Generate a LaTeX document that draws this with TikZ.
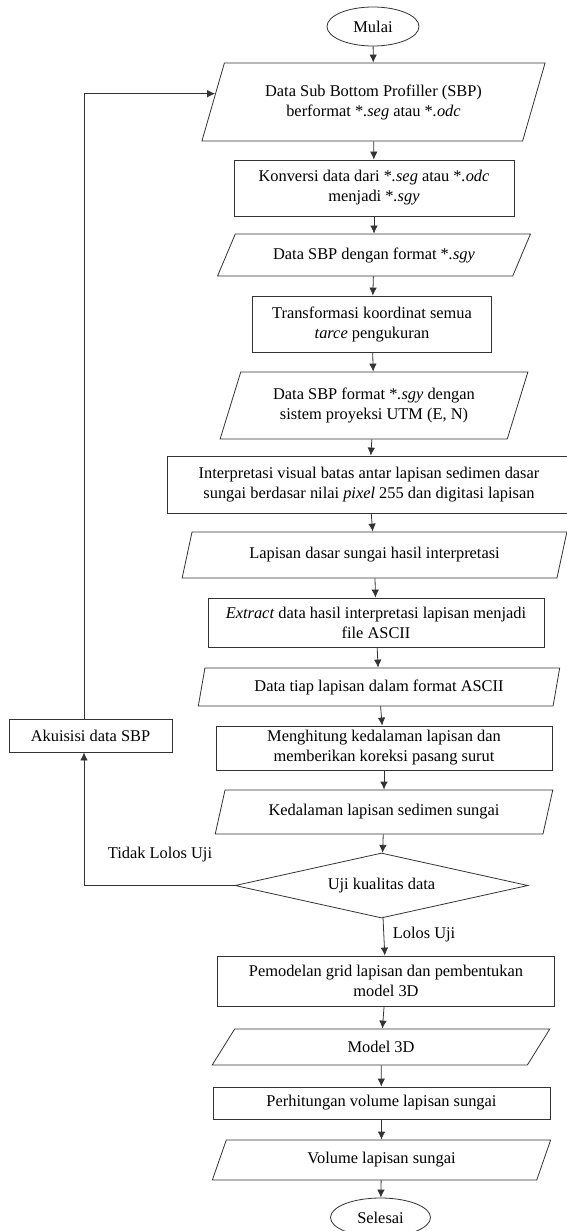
\documentclass[tikz,border=0pt]{standalone}
\usepackage{fontspec}
\setmainfont{Liberation Serif}
\usetikzlibrary{shapes,arrows,arrows.meta,positioning,calc}
\newcommand{\flowfont}{\fontsize{16.4pt}{20pt}\selectfont}
\tikzset{
    block/.style={rectangle, draw=black!80, line width=0.8pt, align=center,
                  inner sep=0pt, font=\flowfont},
    io/.style={trapezium, trapezium left angle=#1, trapezium right angle=180-#1,
               trapezium stretches=true, draw=black!80, line width=0.8pt,
               align=center, inner sep=0pt, font=\flowfont},
    io/.default=65,
    terminal/.style={ellipse, draw=black!80, line width=0.8pt, inner sep=0pt,
                     font=\flowfont},
    decision/.style={diamond, draw=black!80, line width=0.8pt, inner sep=0pt,
                     aspect=4.5, font=\flowfont},
    label/.style={inner sep=0pt, font=\flowfont},
    line/.style={draw=black!80, line width=0.8pt, -{Latex[length=8pt,width=7.5pt]}},
}
\begin{document}
\begin{tikzpicture}[x=1pt, y=-1pt]
    \useasboundingbox (0,0) rectangle (566,1231);
    % main column
    \node [terminal, minimum width=92pt, minimum height=39pt] (mulai) at (373,26.5) {Mulai};
    \node [io=65, minimum width=344pt, minimum height=78pt] (data1) at (373.5,102)
        {Data Sub Bottom Profiller (SBP)\\ berformat *\textit{.seg} atau *\textit{.odc}};
    \node [block, minimum width=280pt, minimum height=56pt] (konversi) at (374,188)
        {Konversi data dari *\textit{.seg} atau *\textit{.odc}\\ menjadi *\textit{.sgy}};
    \node [io=49.5, minimum width=314pt, minimum height=42pt] (data2) at (374,255)
        {Data SBP dengan format *\textit{.sgy}};
    \node [block, minimum width=239pt, minimum height=56pt] (transform) at (372,324)
        {Transformasi koordinat semua\\ \textit{tarce} pengukuran};
    \node [io=66, minimum width=308pt, minimum height=67pt] (data3) at (374,405.5)
        {Data SBP format *\textit{.sgy} dengan\\ sistem proyeksi UTM (E, N)};
    \node [block, minimum width=404pt, minimum height=57pt] (interp) at (369,484.5)
        {Interpretasi visual batas antar lapisan sedimen dasar\\ sungai berdasar nilai \textit{pixel} 255 dan digitasi lapisan};
    \node [io=65.5, minimum width=385pt, minimum height=46pt] (lapisan) at (374.5,555)
        {Lapisan dasar sungai hasil interpretasi};
    \node [block, minimum width=336pt, minimum height=49pt] (extract) at (376,622.5)
        {\textit{Extract} data hasil interpretasi lapisan menjadi\\ file ASCII};
    \node [io=72.5, minimum width=362pt, minimum height=38pt] (ascii) at (379,687)
        {Data tiap lapisan dalam format ASCII};
    \node [block, minimum width=336pt, minimum height=44pt] (hitung) at (384,748)
        {Menghitung kedalaman lapisan dan\\ memberikan koreksi pasang surut};
    \node [io=64.5, minimum width=338pt, minimum height=44pt] (kedalaman) at (384,812)
        {Kedalaman lapisan sedimen sungai};
    \node [decision, minimum width=293pt, minimum height=65pt] (uji) at (381.5,885.5)
        {Uji kualitas data};
    \node [block, minimum width=337pt, minimum height=50pt] (grid) at (386,981)
        {Pemodelan grid lapisan dan pembentukan\\ model 3D};
    \node [io=66, minimum width=339pt, minimum height=36pt] (model) at (381,1047)
        {Model 3D};
    \node [block, minimum width=337pt, minimum height=32pt] (volhitung) at (381.5,1103)
        {Perhitungan volume lapisan sungai};
    \node [io=66, minimum width=339pt, minimum height=40pt] (volume) at (381.5,1160)
        {Volume lapisan sungai};
    \node [terminal, minimum width=100pt, minimum height=39pt] (selesai) at (380.5,1217.5) {Selesai};
    % loop back
    \node [block, minimum width=163pt, minimum height=33pt] (akuisisi) at (90.5,735.5)
        {Akuisisi data SBP};
    \node [label] (tidak) at (160,855) {Tidak Lolos Uji};
    \node [label] (lolos) at (424,935) {Lolos Uji};

    \foreach \a/\b in {mulai/data1, data1/konversi, konversi/data2, data2/transform,
        transform/data3, data3/interp, interp/lapisan, lapisan/extract, extract/ascii,
        ascii/hitung, hitung/kedalaman, kedalaman/uji, uji/grid, grid/model,
        model/volhitung, volhitung/volume, volume/selesai}
        \draw[line] (\a) -- (\b);
    \draw[line] (uji.west) -| ([xshift=-6.5pt]akuisisi.south);
    \draw[line] ([xshift=-6.5pt]akuisisi.north) |- (data1.177);
\end{tikzpicture}
\end{document}
